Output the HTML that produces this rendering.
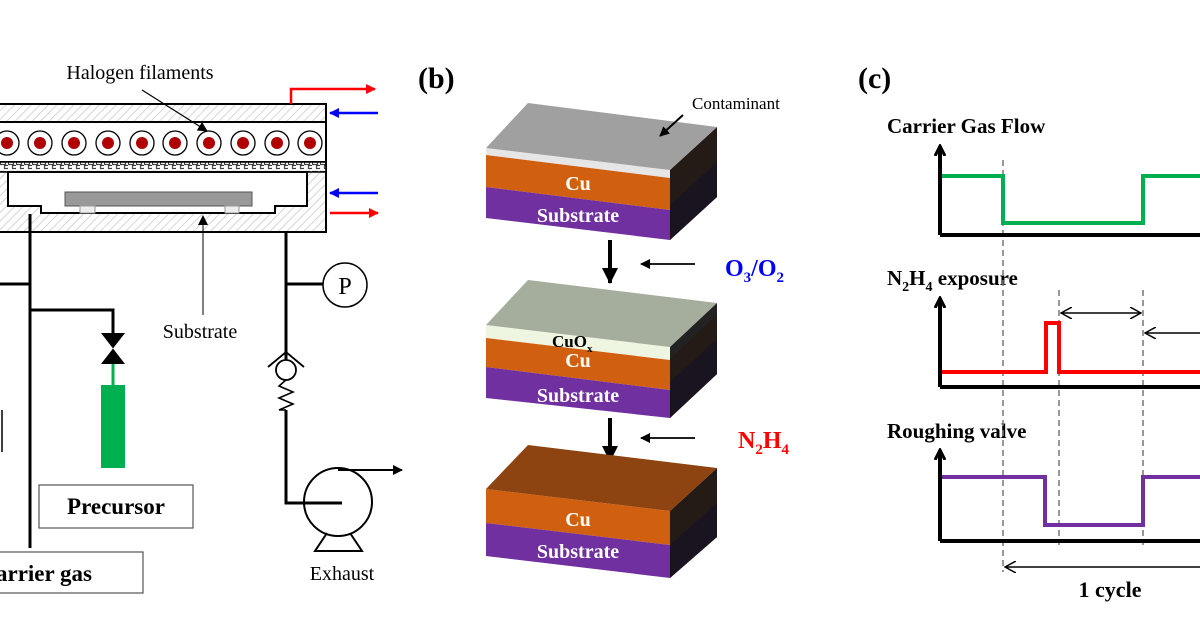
<!DOCTYPE html>
<html><head><style>body{margin:0;background:#fff}svg{display:block}</style></head><body>
<svg width="1200" height="630" viewBox="0 0 1200 630" xmlns="http://www.w3.org/2000/svg" font-family="'Liberation Serif',serif">
<defs>
<pattern id="h" width="6" height="6" patternUnits="userSpaceOnUse" patternTransform="rotate(45)"><rect width="6" height="6" fill="#fff"/><line x1="0" y1="0" x2="0" y2="6" stroke="#c8c8c8" stroke-width="1.5"/></pattern>
<pattern id="m" width="8" height="10" patternUnits="userSpaceOnUse"><rect width="8" height="10" fill="#fff"/><rect x="0.5" y="1.5" width="5" height="3" fill="none" stroke="#444" stroke-width="1.2"/><rect x="4.5" y="5.5" width="5" height="3" fill="none" stroke="#444" stroke-width="1.2"/></pattern>
<marker id="ar" markerWidth="10" markerHeight="10" refX="9" refY="5" orient="auto" markerUnits="userSpaceOnUse"><path d="M0,0 L10,5 L0,10 z" fill="red"/></marker>
<marker id="ab" markerWidth="10" markerHeight="10" refX="9" refY="5" orient="auto" markerUnits="userSpaceOnUse"><path d="M0,0 L10,5 L0,10 z" fill="blue"/></marker>
<marker id="ak" markerWidth="10" markerHeight="10" refX="9" refY="5" orient="auto" markerUnits="userSpaceOnUse"><path d="M0,0 L10,5 L0,10 z" fill="#000"/></marker>
<marker id="ab2" markerWidth="16" markerHeight="16" refX="15" refY="8" orient="auto" markerUnits="userSpaceOnUse"><path d="M0,0 L16,8 L0,16 z" fill="#000"/></marker>
<marker id="ao" markerWidth="12" markerHeight="12" refX="11" refY="6" orient="auto" markerUnits="userSpaceOnUse"><path d="M0,0 L11,6 L0,12" fill="none" stroke="#000" stroke-width="1.5"/></marker>
<marker id="at" markerWidth="12" markerHeight="12" refX="10" refY="6" orient="auto" markerUnits="userSpaceOnUse"><path d="M0,1 L10,6 L0,11" fill="none" stroke="#000" stroke-width="3"/></marker>
</defs>

<!-- Panel a -->
<text x="140" y="79" font-size="20" text-anchor="middle">Halogen filaments</text>
<rect x="-5" y="104" width="331" height="128" fill="url(#h)" stroke="#000" stroke-width="2"/>
<rect x="-5" y="122" width="331" height="40" fill="#fff" stroke="#000" stroke-width="2"/>
<rect x="-5" y="162" width="331" height="10" fill="url(#m)" stroke="#000" stroke-width="1.5"/>
<g fill="#fff" stroke="#000" stroke-width="1.3">
<circle cx="7" cy="143" r="12"/><circle cx="40" cy="143" r="12"/><circle cx="74" cy="143" r="12"/><circle cx="108" cy="143" r="12"/><circle cx="142" cy="143" r="12"/><circle cx="175" cy="143" r="12"/><circle cx="209" cy="143" r="12"/><circle cx="243" cy="143" r="12"/><circle cx="277" cy="143" r="12"/><circle cx="310" cy="143" r="12"/>
</g>
<g fill="#b00000">
<circle cx="7" cy="143" r="6"/><circle cx="40" cy="143" r="6"/><circle cx="74" cy="143" r="6"/><circle cx="108" cy="143" r="6"/><circle cx="142" cy="143" r="6"/><circle cx="175" cy="143" r="6"/><circle cx="209" cy="143" r="6"/><circle cx="243" cy="143" r="6"/><circle cx="277" cy="143" r="6"/><circle cx="310" cy="143" r="6"/>
</g>
<line x1="142" y1="90" x2="207" y2="131" stroke="#000" stroke-width="1.2" marker-end="url(#ak)"/>
<path d="M8,172 L8,206 L41,206 L41,213 L275,213 L275,206 L307,206 L307,172 Z" fill="#fff" stroke="#000" stroke-width="2"/>
<rect x="65" y="192" width="187" height="14" fill="#999" stroke="#555"/>
<rect x="80" y="206" width="15" height="7" fill="#eee" stroke="#999"/>
<rect x="225" y="206" width="14" height="7" fill="#eee" stroke="#999"/>
<line x1="203" y1="315" x2="203" y2="216" stroke="#000" stroke-width="1" marker-end="url(#ak)"/>
<text x="200" y="338" font-size="20" text-anchor="middle">Substrate</text>
<path d="M291,104 L291,89 L375,89" fill="none" stroke="red" stroke-width="2.5" marker-end="url(#ar)"/>
<line x1="378" y1="113" x2="330" y2="113" stroke="blue" stroke-width="2.5" marker-end="url(#ab)"/>
<line x1="378" y1="193" x2="330" y2="193" stroke="blue" stroke-width="2.5" marker-end="url(#ab)"/>
<line x1="330" y1="213" x2="378" y2="213" stroke="red" stroke-width="2.5" marker-end="url(#ar)"/>
<g stroke="#000" stroke-width="3" fill="none">
<line x1="30" y1="214" x2="30" y2="548"/>
<line x1="0" y1="284" x2="30" y2="284"/>
<path d="M30,310 L113,310 L113,333"/>
<line x1="286" y1="232" x2="286" y2="360"/>
<line x1="286" y1="284" x2="323" y2="284"/>
<path d="M286,410 L286,503 L342,503"/>
</g>
<line x1="2" y1="410" x2="2" y2="452" stroke="#000" stroke-width="1.5"/>
<circle cx="345" cy="285" r="22" fill="#fff" stroke="#000" stroke-width="1.5"/>
<text x="345" y="294" font-size="24" text-anchor="middle">P</text>
<path d="M101,333 L125,333 L101,364 L125,364 Z" fill="#000"/>
<line x1="113" y1="364" x2="113" y2="385" stroke="#00b050" stroke-width="3"/>
<rect x="101" y="385" width="24" height="83" fill="#00b050"/>
<rect x="39" y="485" width="154" height="43" fill="#fff" stroke="#555" stroke-width="1.2"/>
<text x="116" y="514" font-size="23" font-weight="bold" text-anchor="middle">Precursor</text>
<rect x="-5" y="552" width="148" height="41" fill="#fff" stroke="#555" stroke-width="1.2"/>
<text x="92" y="581" font-size="23" font-weight="bold" text-anchor="end">Carrier gas</text>
<circle cx="286" cy="370" r="10" fill="#fff" stroke="#000" stroke-width="1.8"/>
<path d="M268,367 L286,352 L304,367" fill="none" stroke="#000" stroke-width="1.8"/>
<path d="M286,380 L279,386 L293,392 L279,398 L293,404 L279,410 L286,410" fill="none" stroke="#000" stroke-width="1.6"/>
<circle cx="338" cy="502" r="34" fill="none" stroke="#000" stroke-width="2"/>
<path d="M327,533 L315,551 L362,551 L350,533" fill="none" stroke="#000" stroke-width="2"/>
<line x1="338" y1="470" x2="402" y2="470" stroke="#000" stroke-width="2" marker-end="url(#ak)"/>
<line x1="286" y1="503" x2="342" y2="503" stroke="#000" stroke-width="3"/>
<text x="342" y="580" font-size="20" text-anchor="middle">Exhaust</text>

<!-- Panel b -->
<text x="418" y="88" font-size="30" font-weight="bold">(b)</text>
<polygon points="670,170 717,127 717,197 670,240" fill="#241a16"/>
<polygon points="670,205 717,162 717,197 670,240" fill="#1a1420"/>
<polygon points="486,148 670,170 670,178 486,155" fill="#e6e6e6"/>
<polygon points="486,155 670,178 670,210 486,187" fill="#d06010"/>
<polygon points="486,187 670,210 670,240 486,218" fill="#7030a0"/>
<polygon points="486,148 528,103 717,127 670,170" fill="#a0a0a0"/>
<text x="578" y="190" font-size="20" font-weight="bold" fill="#fff" text-anchor="middle">Cu</text>
<text x="578" y="222" font-size="20" font-weight="bold" fill="#fff" text-anchor="middle">Substrate</text>
<text x="692" y="109" font-size="17">Contaminant</text>
<line x1="683" y1="115" x2="660" y2="136" stroke="#000" stroke-width="2" marker-end="url(#ak)"/>
<line x1="610" y1="240" x2="610" y2="283" stroke="#000" stroke-width="4" marker-end="url(#ab2)"/>
<line x1="695" y1="264" x2="641" y2="264" stroke="#000" stroke-width="1.8" marker-end="url(#ak)"/>
<text x="725" y="276" font-size="24" font-weight="bold" fill="blue">O<tspan font-size="15" dy="6">3</tspan><tspan dy="-6">/O</tspan><tspan font-size="15" dy="6">2</tspan></text>
<polygon points="670,347 717,303 717,374 670,418" fill="#241a16"/>
<polygon points="670,382 717,339 717,374 670,418" fill="#1a1420"/>
<polygon points="670,347 717,303 717,315 670,359" fill="#222"/>
<polygon points="486,325 670,347 670,360 486,338" fill="#eef5e0"/>
<polygon points="486,338 670,360 670,390 486,367" fill="#d06010"/>
<polygon points="486,367 670,390 670,418 486,398" fill="#7030a0"/>
<polygon points="486,325 528,280 717,303 670,347" fill="#a5ad9c"/>
<text x="552" y="347" font-size="17" font-weight="bold" fill="#000">CuO<tspan font-size="11" dy="5">x</tspan></text>
<text x="578" y="367" font-size="20" font-weight="bold" fill="#fff" text-anchor="middle">Cu</text>
<text x="578" y="402" font-size="20" font-weight="bold" fill="#fff" text-anchor="middle">Substrate</text>
<line x1="610" y1="418" x2="610" y2="461" stroke="#000" stroke-width="4" marker-end="url(#ab2)"/>
<line x1="695" y1="438" x2="641" y2="438" stroke="#000" stroke-width="1.8" marker-end="url(#ak)"/>
<text x="738" y="448" font-size="24" font-weight="bold" fill="red">N<tspan font-size="15" dy="6">2</tspan><tspan dy="-6">H</tspan><tspan font-size="15" dy="6">4</tspan></text>
<polygon points="670,511 717,468 717,537 670,578" fill="#241a16"/>
<polygon points="670,545 717,503 717,537 670,578" fill="#1a1420"/>
<polygon points="486,489 670,511 670,545 486,523" fill="#d06010"/>
<polygon points="486,523 670,545 670,578 486,556" fill="#7030a0"/>
<polygon points="486,489 528,445 717,468 670,511" fill="#8e4410"/>
<text x="578" y="526" font-size="20" font-weight="bold" fill="#fff" text-anchor="middle">Cu</text>
<text x="578" y="558" font-size="20" font-weight="bold" fill="#fff" text-anchor="middle">Substrate</text>

<!-- Panel c -->
<text x="858" y="88" font-size="30" font-weight="bold">(c)</text>
<g font-size="21" font-weight="bold">
<text x="887" y="133">Carrier Gas Flow</text>
<text x="887" y="285">N<tspan font-size="14" dy="6">2</tspan><tspan dy="-6">H</tspan><tspan font-size="14" dy="6">4</tspan><tspan dy="-6"> exposure</tspan></text>
<text x="887" y="438">Roughing valve</text>
<text x="1110" y="597" font-size="22" text-anchor="middle">1 cycle</text>
</g>
<g stroke="#777" stroke-width="1.5" stroke-dasharray="6,4">
<line x1="1003" y1="160" x2="1003" y2="572"/>
<line x1="1059" y1="290" x2="1059" y2="545"/>
<line x1="1143" y1="290" x2="1143" y2="545"/>
</g>
<g fill="none" stroke="#000" stroke-width="4">
<path d="M940,235 L1200,235 M940,235 L940,146" marker-end="url(#at)"/>
<path d="M940,387 L1200,387 M940,387 L940,298" marker-end="url(#at)"/>
<path d="M940,541 L1200,541 M940,541 L940,450" marker-end="url(#at)"/>
</g>
<path d="M942,176 L1003,176 L1003,223 L1143,223 L1143,176 L1200,176" fill="none" stroke="#00b050" stroke-width="4"/>
<path d="M942,372 L1046,372 L1046,323 L1059,323 L1059,372 L1200,372" fill="none" stroke="red" stroke-width="4"/>
<path d="M942,477 L1045,477 L1045,525 L1143,525 L1143,477 L1200,477" fill="none" stroke="#7030a0" stroke-width="4"/>
<line x1="1100" y1="313" x2="1061" y2="313" stroke="#000" stroke-width="1.5" marker-end="url(#ao)"/>
<line x1="1100" y1="313" x2="1141" y2="313" stroke="#000" stroke-width="1.5" marker-end="url(#ao)"/>
<line x1="1200" y1="333" x2="1145" y2="333" stroke="#000" stroke-width="1.5" marker-end="url(#ao)"/>
<line x1="1200" y1="567" x2="1005" y2="567" stroke="#000" stroke-width="1.5" marker-end="url(#ao)"/>
</svg>
</body></html>
